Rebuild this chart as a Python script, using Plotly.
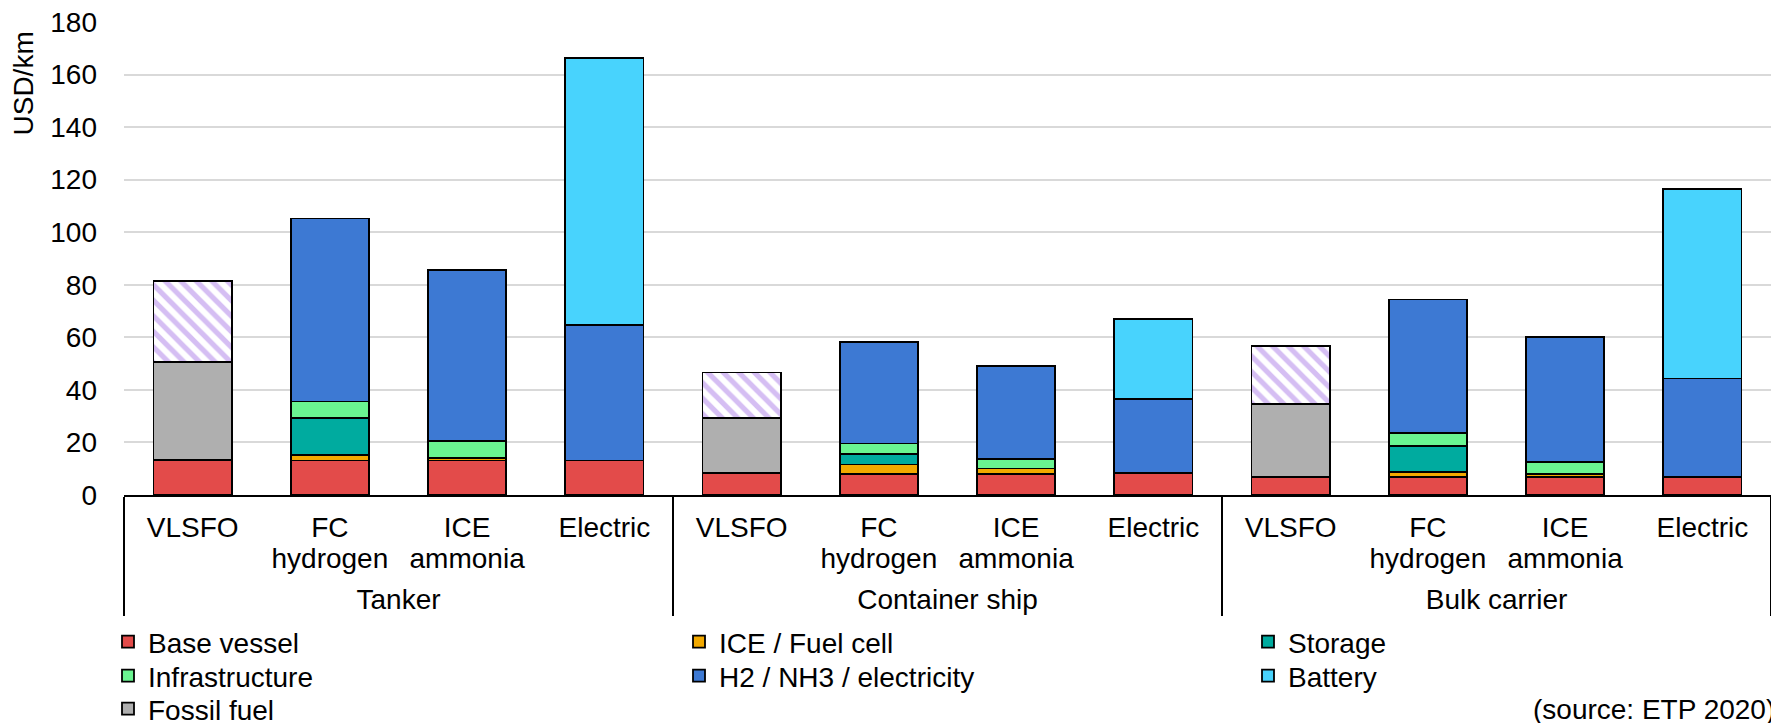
import plotly.graph_objects as go

# ---- data ----
group_names = ["Tanker", "Container ship", "Bulk carrier"]
fuel_names = [("VLSFO", ""), ("FC", "hydrogen"), ("ICE", "ammonia"), ("Electric", "")]

base_vessel    = [13.2, 13.1, 13.1, 13.1,  8.4, 8.0, 8.0, 8.3,  6.9, 6.7, 6.7, 7.0]
ice_fuel_cell  = [None, 2.1, 1.0, None,    None, 3.6, 2.1, None, None, 2.1, 1.4, None]
storage        = [None, 14.0, None, None,  None, 4.1, None, None, None, 9.9, None, None]
infrastructure = [None, 6.4, 6.3, None,    None, 3.9, 3.7, None, None, 4.8, 4.4, None]
h2_nh3_elec    = [None, 69.6, 65.2, 51.6,  None, 38.5, 35.2, 28.3, None, 50.9, 47.7, 37.3]
battery        = [None, None, None, 101.5, None, None, None, 30.5, None, None, None, 72.2]
fossil_fuel    = [37.5, None, None, None,  21.0, None, None, None, 27.6, None, None, None]
hatched_extra  = [30.7, None, None, None,  17.2, None, None, None, 22.3, None, None, None]

# name, values, colour, legend id
series = [
    ("Base vessel", base_vessel, "#e34b4a", "legend"),
    ("ICE / Fuel cell", ice_fuel_cell, "#f2a900", "legend"),
    ("Storage", storage, "#00ab9f", "legend2"),
    ("Infrastructure", infrastructure, "#6af591", "legend3"),
    ("H2 / NH3 / electricity", h2_nh3_elec, "#3d79d3", "legend3"),
    ("Battery", battery, "#48d3fd", "legend4"),
    ("Fossil fuel", fossil_fuel, "#afafaf", "legend5"),
]

FONT = "Liberation Sans, Arial, sans-serif"
FS = 28
W, H = 1771, 723
ML, MR, MT, MB = 124, 0, 22, 228
PW, PH = W - ML - MR, H - MT - MB


def sub_label(top, second):
    # second line nudged up slightly (tighter line spacing as in the original)
    if not second:
        return top
    return f"{top}<br><span style='baseline-shift:6px'>{second}</span>"


def group_label(name):
    # nudged down a little below the fuel labels
    return f"<span style='baseline-shift:-15px'>{name}</span>"


groups = [group_label(g) for g in group_names for _ in fuel_names]
subcats = [sub_label(a, b) for _ in group_names for a, b in fuel_names]

fig = go.Figure()
x = [groups, subcats]
for name, vals, col, lg in series:
    fig.add_trace(go.Bar(
        x=x, y=vals, name=name, legend=lg,
        marker=dict(color=col, line=dict(color="black", width=1.8)),
    ))
fig.add_trace(go.Bar(
    x=x, y=hatched_extra, name="", showlegend=False,
    marker=dict(color="white", line=dict(color="black", width=1.8),
                pattern=dict(shape="\\", fgcolor="#ac7de8", bgcolor="white",
                             size=11, solidity=0.48)),
))


def px_x(p):
    return (p - ML) / PW


def px_y(p):
    return (H - MB - p) / PH


def leg(left, yc):
    return dict(
        orientation="h", x=px_x(left), y=px_y(yc), xanchor="left", yanchor="middle",
        entrywidth=526, entrywidthmode="pixels", traceorder="normal",
        font=dict(size=FS, color="black", family=FONT), bgcolor="rgba(0,0,0,0)",
        itemwidth=30,
    )


COL1, COL3 = 108, 1248
ROW1, ROW2, ROW3 = 642, 676, 709

fig.update_layout(
    width=W, height=H,
    margin=dict(l=ML, r=MR, t=MT, b=MB, pad=0, autoexpand=False),
    barmode="stack", bargap=0.43,
    plot_bgcolor="white", paper_bgcolor="white",
    font=dict(family=FONT, size=FS, color="black"),
    xaxis=dict(
        type="multicategory", showline=True, linecolor="black", linewidth=1.5,
        showdividers=True, dividercolor="black", dividerwidth=1.5,
        tickangle=0, ticks="", ticklabelstandoff=7,
        tickfont=dict(size=FS, color="black"),
        showgrid=False, automargin=False,
    ),
    yaxis=dict(
        range=[0, 180], dtick=20, tick0=0, showgrid=True,
        gridcolor="#d9d9d9", gridwidth=1.6, zeroline=False, showline=False,
        ticks="", ticklabelstandoff=26, tickfont=dict(size=FS, color="black"),
        automargin=False,
    ),
    legend=leg(COL1, ROW1),
    legend2=leg(COL3, ROW1),
    legend3=leg(COL1, ROW2),
    legend4=leg(COL3, ROW2),
    legend5=leg(COL1, ROW3),
    showlegend=True,
)

fig.add_annotation(
    text="USD/km", textangle=-90, xref="paper", yref="paper",
    x=px_x(23), y=px_y(83.5), xanchor="center", yanchor="middle",
    showarrow=False, font=dict(size=FS, color="black"),
)
fig.add_annotation(
    text="(source: ETP 2020)", xref="paper", yref="paper",
    x=px_x(1531), y=px_y(709), xanchor="left", yanchor="middle",
    showarrow=False, font=dict(size=FS, color="black"),
)

fig.write_html("out.html")
